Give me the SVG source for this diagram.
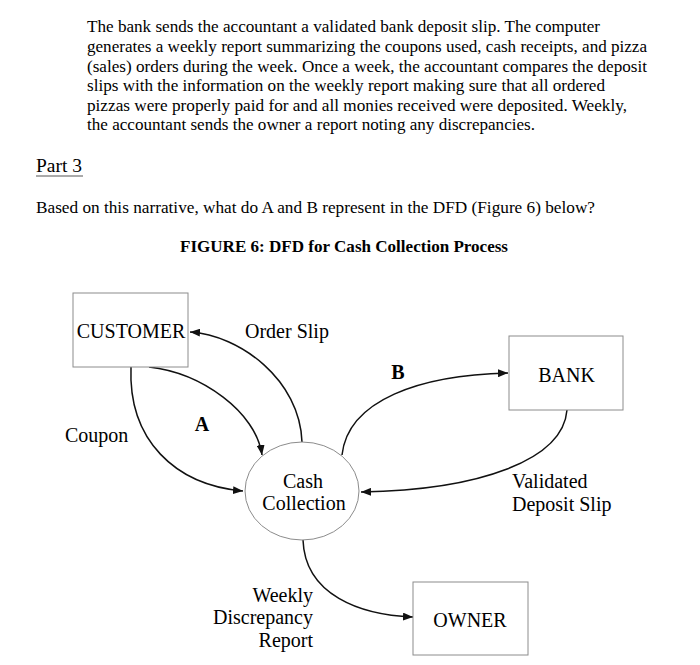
<svg xmlns="http://www.w3.org/2000/svg" width="700" height="665" viewBox="0 0 700 665">
<style>
.t{font-family:"Liberation Serif","Times New Roman",serif;fill:#000}
.p{font-size:17px}
.l{font-size:20px}
.b{font-weight:bold}
.box{fill:#fff;stroke:#8c8c8c;stroke-width:1}
.c{fill:none;stroke:#111;stroke-width:1.5}
</style>
<defs>
<marker id="ah" viewBox="0 0 10 8" refX="10" refY="4" markerWidth="10" markerHeight="8" markerUnits="userSpaceOnUse" orient="auto">
<path d="M0,0 L10,4 L0,8 z" fill="#111"/>
</marker>
</defs>
<rect width="700" height="665" fill="#fff"/>
<g id="narrative" class="t p">
<text x="87" y="32" textLength="513" lengthAdjust="spacingAndGlyphs">The bank sends the accountant a validated bank deposit slip. The computer</text>
<text x="87" y="52" textLength="560" lengthAdjust="spacingAndGlyphs">generates a weekly report summarizing the coupons used, cash receipts, and pizza</text>
<text x="87" y="71.5" textLength="560" lengthAdjust="spacingAndGlyphs">(sales) orders during the week. Once a week, the accountant compares the deposit</text>
<text x="87" y="91" textLength="518" lengthAdjust="spacingAndGlyphs">slips with the information on the weekly report making sure that all ordered</text>
<text x="87" y="111" textLength="540" lengthAdjust="spacingAndGlyphs">pizzas were properly paid for and all monies received were deposited. Weekly,</text>
<text x="87" y="130" textLength="448" lengthAdjust="spacingAndGlyphs">the accountant sends the owner a report noting any discrepancies.</text>
</g>
<g id="part3" class="t">
<text x="36" y="172" style="font-size:19.5px">Part 3</text>
<line x1="36" y1="176" x2="83" y2="176" stroke="#555" stroke-width="1"/>
<text x="36" y="213" class="p" textLength="559" lengthAdjust="spacingAndGlyphs">Based on this narrative, what do A and B represent in the DFD (Figure 6) below?</text>
<text x="180" y="251.5" class="p b" textLength="328" lengthAdjust="spacingAndGlyphs">FIGURE 6: DFD for Cash Collection Process</text>
</g>
<g id="connectors">
<path id="order-slip" class="c" d="M302,442 C300,380 240,335 190,332" marker-end="url(#ah)"/>
<path id="flow-a" class="c" d="M149,367 C202,373 256,412 262,455" marker-end="url(#ah)"/>
<path id="coupon" class="c" d="M131,367 C128,440 175,485 243,491" marker-end="url(#ah)"/>
<path id="flow-b" class="c" d="M342,455 C348,400 420,375 508,373" marker-end="url(#ah)"/>
<path id="validated" class="c" d="M567,410 C563,460 480,490 361,492" marker-end="url(#ah)"/>
<path id="weekly" class="c" d="M303,540 C305,595 360,615 413,617" marker-end="url(#ah)"/>
</g>
<g id="flow-labels" class="t l">
<text x="245" y="338">Order Slip</text>
<text x="65" y="442">Coupon</text>
<text x="202" y="431" class="b" text-anchor="middle">A</text>
<text x="398" y="379" class="b" text-anchor="middle">B</text>
<text x="512" y="488">Validated</text>
<text x="512" y="511">Deposit Slip</text>
<text x="313" y="602" text-anchor="end">Weekly</text>
<text x="313" y="624" text-anchor="end">Discrepancy</text>
<text x="313" y="647" text-anchor="end">Report</text>
</g>
<g id="customer">
<rect class="box" x="73" y="293" width="115" height="74"/>
<text class="t l" x="131" y="338" text-anchor="middle">CUSTOMER</text>
</g>
<g id="cash-collection">
<ellipse class="box" cx="302" cy="491" rx="57" ry="49"/>
<text class="t l" x="303" y="488" text-anchor="middle">Cash</text>
<text class="t l" x="304" y="510" text-anchor="middle">Collection</text>
</g>
<g id="bank">
<rect class="box" x="509" y="336" width="114" height="74"/>
<text class="t l" x="566.5" y="382" text-anchor="middle">BANK</text>
</g>
<g id="owner">
<rect class="box" x="413" y="582" width="115" height="73"/>
<text class="t l" x="470" y="627" text-anchor="middle">OWNER</text>
</g>
</svg>
